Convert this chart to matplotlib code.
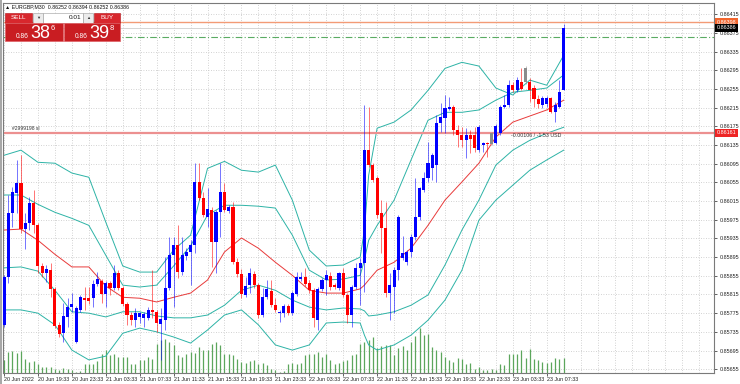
import matplotlib
matplotlib.use("Agg")
import matplotlib.pyplot as plt
from matplotlib.patches import Rectangle

# --- EURGBP M30 candles ---
opens = [0.85749, 0.85852, 0.85990, 0.86032, 0.86054, 0.85955, 0.85968, 0.86011, 0.85963, 0.85876,
         0.85861, 0.85867, 0.85827, 0.85749, 0.85732, 0.85767, 0.85788, 0.85713, 0.85782, 0.85807,
         0.85807, 0.85807, 0.85837, 0.85843, 0.85816, 0.85839, 0.85829, 0.85861, 0.85829, 0.85795,
         0.85771, 0.85760, 0.85767, 0.85765, 0.85765, 0.85782, 0.85778, 0.85752, 0.85760, 0.85829,
         0.85899, 0.85920, 0.85863, 0.85897, 0.85906, 0.85920, 0.86056, 0.86021, 0.85981, 0.85996,
         0.85927, 0.85992, 0.86034, 0.85994, 0.86002, 0.85884, 0.85859, 0.85814, 0.85835, 0.85859,
         0.85835, 0.85771, 0.85809, 0.85822, 0.85792, 0.85775, 0.85775, 0.85790, 0.85775, 0.85816,
         0.85848, 0.85852, 0.85839, 0.85824, 0.85760, 0.85827, 0.85846, 0.85854, 0.85835, 0.85829,
         0.85861, 0.85814, 0.85771, 0.85831, 0.85872, 0.85883, 0.86124, 0.86092, 0.86064, 0.85990,
         0.85957, 0.85818, 0.85831, 0.85867, 0.85893, 0.85884, 0.85906, 0.85937, 0.85981, 0.86038,
         0.86064, 0.86086, 0.86092, 0.86182, 0.86193, 0.86212, 0.86216, 0.86167, 0.86156, 0.86145,
         0.86156, 0.86156, 0.86124, 0.86135, 0.86139, 0.86137, 0.86139, 0.86160, 0.86216, 0.86220,
         0.86263, 0.86252, 0.86270, 0.86270, 0.86270, 0.86257, 0.86233, 0.86220, 0.86222, 0.86235,
         0.86205, 0.86216, 0.86252]
highs = [0.85856, 0.86027, 0.86045, 0.86103, 0.86113, 0.85990, 0.86023, 0.86038, 0.85968, 0.85883,
         0.85878, 0.85883, 0.85831, 0.85756, 0.85797, 0.85807, 0.85818, 0.85790, 0.85813, 0.85831,
         0.85831, 0.85846, 0.85863, 0.85848, 0.85843, 0.85843, 0.85878, 0.85867, 0.85833, 0.85799,
         0.85778, 0.85786, 0.85778, 0.85778, 0.85788, 0.85867, 0.85782, 0.85786, 0.85895, 0.85937,
         0.85937, 0.85963, 0.85937, 0.85914, 0.85931, 0.86096, 0.86096, 0.86034, 0.86043, 0.86002,
         0.85996, 0.86096, 0.86054, 0.86006, 0.86013, 0.85893, 0.85870, 0.85852, 0.85872, 0.85865,
         0.85839, 0.85829, 0.85846, 0.85846, 0.85807, 0.85782, 0.85795, 0.85795, 0.85822, 0.85863,
         0.85863, 0.85872, 0.85846, 0.85829, 0.85831, 0.85850, 0.85867, 0.85863, 0.85839, 0.85863,
         0.85872, 0.85818, 0.85835, 0.85883, 0.85893, 0.86220, 0.86216, 0.86096, 0.86068, 0.86017,
         0.86013, 0.85861, 0.85874, 0.85985, 0.85940, 0.85910, 0.85944, 0.86064, 0.86045, 0.86077,
         0.86141, 0.86118, 0.86199, 0.86225, 0.86242, 0.86238, 0.86220, 0.86178, 0.86173, 0.86171,
         0.86167, 0.86173, 0.86178, 0.86141, 0.86141, 0.86163, 0.86180, 0.86220, 0.86242, 0.86274,
         0.86270, 0.86280, 0.86300, 0.86304, 0.86278, 0.86263, 0.86242, 0.86240, 0.86240, 0.86238,
         0.86227, 0.86274, 0.86394]
lows = [0.85745, 0.85840, 0.85959, 0.85990, 0.85947, 0.85912, 0.85953, 0.85947, 0.85861, 0.85852,
        0.85842, 0.85809, 0.85743, 0.85724, 0.85713, 0.85745, 0.85778, 0.85711, 0.85778, 0.85782,
        0.85795, 0.85788, 0.85833, 0.85797, 0.85788, 0.85814, 0.85824, 0.85824, 0.85790, 0.85749,
        0.85749, 0.85745, 0.85754, 0.85745, 0.85760, 0.85765, 0.85735, 0.85675, 0.85739, 0.85824,
        0.85788, 0.85850, 0.85856, 0.85889, 0.85835, 0.85904, 0.86017, 0.85981, 0.85959, 0.85874,
        0.85861, 0.85937, 0.85992, 0.85990, 0.85880, 0.85852, 0.85807, 0.85809, 0.85818, 0.85829,
        0.85765, 0.85767, 0.85805, 0.85788, 0.85778, 0.85756, 0.85767, 0.85771, 0.85771, 0.85812,
        0.85844, 0.85833, 0.85818, 0.85745, 0.85739, 0.85822, 0.85814, 0.85824, 0.85827, 0.85824,
        0.85809, 0.85754, 0.85745, 0.85827, 0.85792, 0.85820, 0.86088, 0.86056, 0.85979, 0.85904,
        0.85809, 0.85760, 0.85775, 0.85846, 0.85889, 0.85878, 0.85895, 0.85931, 0.85974, 0.86034,
        0.86056, 0.86060, 0.86056, 0.86163, 0.86160, 0.86210, 0.86156, 0.86130, 0.86130, 0.86107,
        0.86118, 0.86120, 0.86120, 0.86120, 0.86109, 0.86135, 0.86137, 0.86156, 0.86214, 0.86216,
        0.86248, 0.86248, 0.86252, 0.86265, 0.86227, 0.86216, 0.86214, 0.86214, 0.86216, 0.86203,
        0.86184, 0.86214, 0.86252]
closes = [0.85852, 0.85990, 0.86034, 0.86054, 0.85955, 0.85968, 0.86011, 0.85963, 0.85876, 0.85861,
          0.85870, 0.85827, 0.85747, 0.85730, 0.85769, 0.85788, 0.85795, 0.85786, 0.85809, 0.85803,
          0.85801, 0.85837, 0.85848, 0.85816, 0.85839, 0.85829, 0.85861, 0.85829, 0.85795, 0.85771,
          0.85760, 0.85775, 0.85775, 0.85773, 0.85782, 0.85778, 0.85754, 0.85762, 0.85829, 0.85899,
          0.85920, 0.85863, 0.85899, 0.85906, 0.85920, 0.86056, 0.86021, 0.85985, 0.85998, 0.85927,
          0.85992, 0.86034, 0.85996, 0.86002, 0.85884, 0.85859, 0.85816, 0.85833, 0.85861, 0.85835,
          0.85771, 0.85809, 0.85827, 0.85792, 0.85782, 0.85777, 0.85790, 0.85775, 0.85818, 0.85852,
          0.85852, 0.85837, 0.85824, 0.85765, 0.85827, 0.85846, 0.85856, 0.85831, 0.85831, 0.85861,
          0.85814, 0.85771, 0.85831, 0.85872, 0.85883, 0.86124, 0.86092, 0.86060, 0.85985, 0.85957,
          0.85818, 0.85835, 0.85867, 0.85981, 0.85904, 0.85906, 0.85937, 0.85981, 0.86043, 0.86064,
          0.86096, 0.86113, 0.86182, 0.86195, 0.86214, 0.86216, 0.86167, 0.86156, 0.86145, 0.86156,
          0.86148, 0.86128, 0.86173, 0.86139, 0.86137, 0.86160, 0.86175, 0.86216, 0.86220, 0.86263,
          0.86252, 0.86274, 0.86255, 0.86300, 0.86252, 0.86233, 0.86222, 0.86235, 0.86235, 0.86205,
          0.86220, 0.86248, 0.86386]
gray_bars = [115, 123]  # bars MT4 drew in gray

volumes = [500, 840, 880, 800, 880, 560, 440, 480, 360, 240,
           240, 240, 160, 120, 200, 160, 120, 40, 60, 360,
           340, 360, 480, 760, 900, 700, 760, 640, 640, 640,
           360, 340, 500, 500, 640, 560, 1140, 1300, 1360, 1240,
           1100, 700, 640, 760, 840, 800, 1040, 900, 920, 1160,
           1240, 1100, 760, 740, 700, 560, 440, 400, 460, 500,
           360, 400, 300, 160, 120, 40, 80, 360, 380, 360,
           400, 700, 760, 760, 840, 640, 740, 500, 360, 400,
           460, 500, 700, 740, 1160, 1240, 1320, 1440, 1000, 1060,
           1100, 1100, 700, 1000, 1060, 920, 1240, 1460, 1780, 1500,
           1560, 1040, 900, 840, 640, 500, 440, 600, 560, 360,
           380, 160, 240, 100, 120, 160, 120, 360, 300, 760,
           760, 760, 920, 600, 960, 560, 500, 440, 380, 440,
           600, 560, 600]

# --- Bollinger envelopes, read at every 4th bar ---
band_idx = [0, 4, 8, 12, 16, 20, 24, 28, 32, 36, 40, 44, 48, 52, 56, 60, 64, 68, 72, 76, 80, 84,
            85, 86, 88, 92, 96, 100, 104, 108, 112, 116, 120, 124, 128, 132]
bb_outer_up = [0.86113, 0.86124, 0.86098, 0.86096, 0.86075, 0.86066, 0.85970, 0.85876, 0.85863, 0.85863,
               0.85910, 0.85942, 0.86085, 0.86100, 0.86081, 0.86077, 0.86092, 0.86017, 0.85910, 0.85876,
               0.85878, 0.85895, 0.85953, 0.86070, 0.86171, 0.86184, 0.86210, 0.86252, 0.86299, 0.86312,
               0.86304, 0.86257, 0.86242, 0.86274, 0.86263, 0.86327]
bb_inner_up = [0.86028, 0.86028, 0.86008, 0.85991, 0.85978, 0.85963, 0.85899, 0.85835, 0.85831, 0.85835,
               0.85876, 0.85919, 0.85985, 0.86006, 0.86006, 0.86004, 0.86000, 0.85942, 0.85867, 0.85846,
               0.85848, 0.85856, 0.85889, 0.85931, 0.85963, 0.86017, 0.86103, 0.86188, 0.86205, 0.86205,
               0.86210, 0.86231, 0.86248, 0.86252, 0.86257, 0.86285]
bb_mid = [0.85953, 0.85955, 0.85931, 0.85901, 0.85874, 0.85874, 0.85833, 0.85809, 0.85807, 0.85799,
          0.85809, 0.85818, 0.85846, 0.85906, 0.85936, 0.85914, 0.85884, 0.85856, 0.85824, 0.85818,
          0.85818, 0.85827, 0.85835, 0.85846, 0.85867, 0.85884, 0.85914, 0.85963, 0.86017, 0.86056,
          0.86096, 0.86152, 0.86184, 0.86197, 0.86210, 0.86231]
bb_inner_dn = [0.85872, 0.85874, 0.85865, 0.85824, 0.85778, 0.85775, 0.85767, 0.85778, 0.85778, 0.85769,
               0.85765, 0.85765, 0.85771, 0.85792, 0.85824, 0.85835, 0.85824, 0.85803, 0.85788, 0.85782,
               0.85786, 0.85784, 0.85780, 0.85769, 0.85771, 0.85778, 0.85792, 0.85814, 0.85878, 0.85953,
               0.86017, 0.86092, 0.86124, 0.86145, 0.86160, 0.86173]
bb_outer_dn = [0.85782, 0.85782, 0.85775, 0.85750, 0.85696, 0.85675, 0.85683, 0.85732, 0.85743, 0.85735,
               0.85724, 0.85711, 0.85739, 0.85771, 0.85782, 0.85750, 0.85707, 0.85696, 0.85707, 0.85754,
               0.85756, 0.85754, 0.85728, 0.85707, 0.85696, 0.85707, 0.85728, 0.85760, 0.85803, 0.85867,
               0.85974, 0.86017, 0.86049, 0.86081, 0.86103, 0.86124]

price_ticks = [0.85655 + 0.0004 * k for k in range(20)]
time_idx = [0, 8, 16, 24, 32, 40, 48, 56, 64, 72, 80, 88, 96, 104, 112, 120, 128]
time_labels = ["20 Jun 2022", "20 Jun 19:33", "20 Jun 23:33", "21 Jun 03:33", "21 Jun 07:33",
               "21 Jun 11:33", "21 Jun 15:33", "21 Jun 19:33", "21 Jun 23:33", "22 Jun 03:33",
               "22 Jun 07:33", "22 Jun 11:33", "22 Jun 15:33", "22 Jun 19:33", "22 Jun 23:33",
               "23 Jun 03:33", "23 Jun 07:33"]

tp_level = 0.86398
bid_level = 0.86386
ask_level = 0.86366
sl_level = 0.86161

FONT = ["Liberation Sans", "DejaVu Sans"]
plt.rcParams["font.family"] = FONT

W, H = 740, 384
fig = plt.figure(figsize=(W / 100, H / 100), dpi=100)
fig.patch.set_facecolor("white")
ax = fig.add_axes([3 / W, (H - 372.5) / H, 711 / W, 369.5 / H])
ax.set_xlim(-0.24, 167.45)
ax.set_ylim(0.85648, 0.86439)

# grid
for p in price_ticks:
    ax.axhline(p, color="#c4c4c4", lw=0.6, ls=(0, (1, 2)), zorder=0)
for i in range(0, 168, 4):
    ax.axvline(i, color="#c4c4c4", lw=0.6, ls=(0, (1, 2)), zorder=0)

# volumes along the bottom
VOL_TOP = 14780
ax.vlines(range(len(volumes)), 0, [v / VOL_TOP for v in volumes],
          transform=ax.get_xaxis_transform(), color="#5ca65c", lw=0.9, zorder=1)

# bands
teal = "#2db3a6"
for band in (bb_outer_up, bb_inner_up, bb_inner_dn, bb_outer_dn):
    ax.plot(band_idx, band, color=teal, lw=0.7, zorder=2)
ax.plot(band_idx, bb_mid, color="#e83a3a", lw=0.7, zorder=2)

# candles
one_px = 0.0000214
for i, (o, h, l, c) in enumerate(zip(opens, highs, lows, closes)):
    if i in gray_bars:
        col = "#8c8c8c"
    elif c >= o:
        col = "#0000ff"
    else:
        col = "#ff0000"
    ax.vlines(i, l, h, color=col, lw=0.7, alpha=0.55, zorder=3)
    ax.add_patch(Rectangle((i - 0.36, min(o, c)), 0.72, max(abs(c - o), one_px),
                           facecolor=col, edgecolor="none", zorder=4))

# horizontal levels
ax.axhline(tp_level, color="#f39b76", lw=1.0, zorder=2)
ax.axhline(bid_level, color="#cfcfcf", lw=0.6, zorder=2)
ax.axhline(ask_level, color="#5aab62", lw=0.8, dashes=(6, 2, 1, 2), zorder=2)
ax.axhline(sl_level, color="#ec9090", lw=1.6, zorder=2)
ax.text(2, sl_level + 0.00005, "#2999198 sl", fontsize=3.6, color="#333333", va="bottom", ha="left")
ax.text(119.5, sl_level - 0.00006, "-0.00106 / -1.53 USD", fontsize=3.8, color="#333333",
        va="center", ha="left")

# price axis
ax.yaxis.tick_right()
ax.set_yticks(price_ticks)
ax.set_yticklabels([f"{p:.5f}" for p in price_ticks])
ax.tick_params(axis="y", length=2, width=0.5, pad=2, labelsize=3.9, colors="#222222")
ax.set_xticks(time_idx)
ax.set_xticklabels(time_labels)
ax.tick_params(axis="x", length=2, width=0.5, pad=1.5, labelsize=3.9, colors="#222222")
for lab in ax.get_xticklabels():
    lab.set_horizontalalignment("left")
for sp in ax.spines.values():
    sp.set_color("#7a7a7a")
    sp.set_linewidth(0.8)

ytr = ax.get_yaxis_transform()
for lvl, txt, bg in ((tp_level, "0.86398", "#f2662f"), (bid_level, "0.86386", "#000000"),
                     (sl_level, "0.86161", "#ee2424")):
    ax.text(1.004, lvl, txt, transform=ytr, fontsize=3.9, color="white", ha="left", va="center",
            bbox=dict(boxstyle="square,pad=0.25", fc=bg, ec="none"), clip_on=False, zorder=6)

# overlay in pixel coordinates for the one-click panel and header
ov = fig.add_axes([0, 0, 1, 1], zorder=10)
ov.set_xlim(0, W)
ov.set_ylim(H, 0)
ov.axis("off")
ov.patch.set_alpha(0)
ov.add_patch(Rectangle((0, 0), 2.2, H, facecolor="#a8a8a8", edgecolor="none"))

ov.text(5, 6.5, "▲ EURGBP,M30  0.86252 0.86394 0.86252 0.86386", fontsize=3.8, color="#111111",
        va="center", ha="left", family=FONT)

red_btn = "#d8272d"
red_box = "#c91d22"
ov.add_patch(Rectangle((5, 12.5), 27, 10, facecolor=red_btn, edgecolor="#b01015", lw=0.4))
ov.add_patch(Rectangle((94, 12.5), 26, 10, facecolor=red_btn, edgecolor="#b01015", lw=0.4))
ov.add_patch(Rectangle((33, 12.5), 10, 10, facecolor="#ececec", edgecolor="#9a9a9a", lw=0.4))
ov.add_patch(Rectangle((43, 12.5), 40, 10, facecolor="white", edgecolor="#9a9a9a", lw=0.4))
ov.add_patch(Rectangle((83, 12.5), 10, 10, facecolor="#ececec", edgecolor="#9a9a9a", lw=0.4))
ov.text(18.5, 17.7, "SELL", fontsize=4.6, color="white", ha="center", va="center")
ov.text(107, 17.7, "BUY", fontsize=4.6, color="white", ha="center", va="center")
ov.text(38, 17.7, "▼", fontsize=3.0, color="#333333", ha="center", va="center", family=FONT)
ov.text(88, 17.7, "▲", fontsize=3.0, color="#333333", ha="center", va="center", family=FONT)
ov.text(81, 17.7, "0.01", fontsize=4.6, color="#111111", ha="right", va="center")

ov.add_patch(Rectangle((5, 23), 58, 18, facecolor=red_box, edgecolor="#e06065", lw=0.5))
ov.add_patch(Rectangle((64, 23), 56, 18, facecolor=red_box, edgecolor="#e06065", lw=0.5))
for x0, big, sup in ((5, "38", "6"), (64, "39", "8")):
    ov.text(x0 + 11, 37.5, "0.86", fontsize=4.8, color="white", ha="left", va="baseline")
    ov.text(x0 + 25, 38.5, big, fontsize=13, color="white", ha="left", va="baseline")
    ov.text(x0 + 46, 30.5, sup, fontsize=5.5, color="white", ha="left", va="baseline")

fig.savefig("out.png", dpi=100, facecolor=fig.get_facecolor())
plt.close(fig)
